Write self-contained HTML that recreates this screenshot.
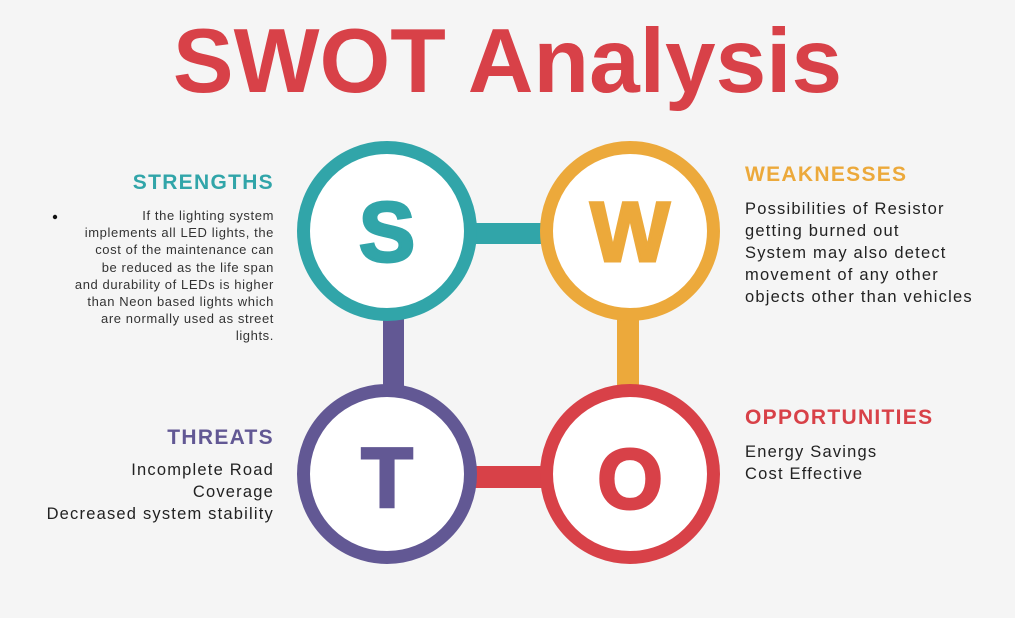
<!DOCTYPE html>
<html><head><meta charset="utf-8"><style>
body{margin:0;width:1015px;height:618px;background:#f5f5f5;font-family:"Liberation Sans",sans-serif;position:relative;overflow:hidden}
.a{position:absolute;margin:0;white-space:nowrap}
h1{position:absolute;left:0;width:1015px;top:10px;text-align:center;margin:0;font-size:91px;font-weight:bold;color:#d84148}
.h{font-weight:bold;font-size:21px;letter-spacing:1.3px}
.r{text-align:right}
.b{font-size:16.5px;line-height:22px;color:#222;letter-spacing:1.2px}
.sb{font-size:13px;line-height:17.2px;color:#333;text-align:right;letter-spacing:0.6px}
</style></head><body>
<h1>SWOT Analysis</h1>
<svg class="a" style="left:0;top:0" width="1015" height="618">
<rect x="470" y="223" width="80" height="21" fill="#31a5a9"/>
<rect x="383" y="310" width="21" height="85" fill="#625894"/>
<rect x="617" y="310" width="22" height="85" fill="#eca93b"/>
<rect x="470" y="466" width="80" height="22" fill="#d84148"/>
<circle cx="387" cy="231" r="83.5" fill="#fff" stroke="#31a5a9" stroke-width="13"/>
<circle cx="630" cy="231" r="83.5" fill="#fff" stroke="#eca93b" stroke-width="13"/>
<circle cx="387" cy="474" r="83.5" fill="#fff" stroke="#625894" stroke-width="13"/>
<circle cx="630" cy="474" r="83.5" fill="#fff" stroke="#d84148" stroke-width="13"/>
<g font-family="Liberation Sans, sans-serif" font-weight="bold" font-size="84" text-anchor="middle">
<text x="387" y="261" fill="#31a5a9" stroke="#31a5a9" stroke-width="3">S</text>
<text x="630" y="261" fill="#eca93b" stroke="#eca93b" stroke-width="3">W</text>
<text x="387" y="507" fill="#625894" stroke="#625894" stroke-width="3">T</text>
<text x="630" y="508" fill="#d84148" stroke="#d84148" stroke-width="3">O</text>
</g>
<circle cx="55" cy="217" r="2.2" fill="#111"/>
</svg>
<div class="a h r" style="right:741px;top:171px;color:#31a5a9">STRENGTHS</div>
<div class="a sb" style="right:741px;top:207px">If the lighting system<br>implements all LED lights, the<br>cost of the maintenance can<br>be reduced as the life span<br>and durability of LEDs is higher<br>than Neon based lights which<br>are normally used as street<br>lights.</div>
<div class="a h" style="left:745px;top:163px;color:#eca93b">WEAKNESSES</div>
<div class="a b" style="left:745px;top:198px">Possibilities of Resistor<br>getting burned out<br>System may also detect<br>movement of any other<br>objects other than vehicles</div>
<div class="a h r" style="right:741px;top:426px;color:#625894">THREATS</div>
<div class="a b r" style="right:741px;top:459px">Incomplete Road<br>Coverage<br>Decreased system stability</div>
<div class="a h" style="left:745px;top:406px;color:#d84148">OPPORTUNITIES</div>
<div class="a b" style="left:745px;top:441px">Energy Savings<br>Cost Effective</div>
</body></html>
